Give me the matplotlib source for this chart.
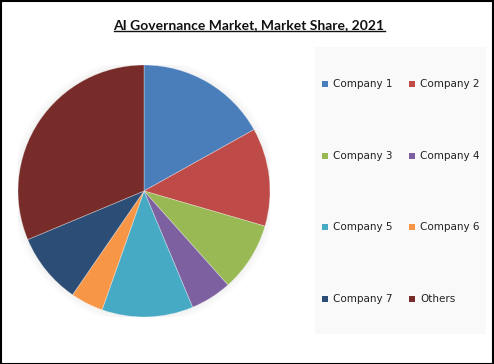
import matplotlib
matplotlib.use('Agg')
import matplotlib.pyplot as plt
from matplotlib.patches import Rectangle, Circle
from matplotlib.lines import Line2D

# data
labels = ['Company 1', 'Company 2', 'Company 3', 'Company 4',
          'Company 5', 'Company 6', 'Company 7', 'Others']
shares = [16.9, 12.6, 8.9, 5.3, 11.7, 4.2, 9.1, 31.3]
colors = ['#4a7ebb', '#be4b48', '#98b954', '#7d60a0',
          '#46aac5', '#f79646', '#2c4d75', '#772c2a']
title = 'AI Governance Market, Market Share, 2021'

W, H = 494, 364
fig = plt.figure(figsize=(W / 100, H / 100), dpi=100)
fig.patch.set_facecolor('white')

# pie axes: centre (144,191) px, radius 126 px
cx, cy, r = 144, 191, 126
ax = fig.add_axes([(cx - r) / W, (H - cy - r) / H, 2 * r / W, 2 * r / H])
ax.axis('off')

# soft shadow
for i in range(6):
    ax.add_patch(Circle((0, 0), 1.0 + 0.01 * (i + 1), color='black',
                        alpha=0.008, lw=0, zorder=0))

ax.pie(shares, colors=colors, startangle=90, counterclock=False,
       radius=1.0, wedgeprops=dict(linewidth=0.6, edgecolor=(1, 1, 1, 0.35)))
ax.set_xlim(-1.0, 1.0)
ax.set_ylim(-1.0, 1.0)
ax.set_aspect('equal')

# title with underline
t = fig.text(249 / W, 1 - 25 / H, title, ha='center', va='center',
             fontsize=10, fontweight='bold', family='Lato', color='#111111')
fig.canvas.draw()
bb = t.get_window_extent()
fig.add_artist(Line2D([bb.x0 / W, bb.x1 / W], [(bb.y0 + 0.5) / H, (bb.y0 + 0.5) / H],
                      color='#111111', lw=1.0, transform=fig.transFigure))

# legend box
fig.add_artist(Rectangle((315 / W, 1 - 334 / H), (486 - 315) / W, (334 - 47) / H,
                         transform=fig.transFigure, facecolor='#f9f9f9',
                         edgecolor='none', zorder=0))
rows_y = [84, 156, 227, 299]
cols_x = [322, 409]
for i, (lab, col) in enumerate(zip(labels, colors)):
    x = cols_x[i % 2]
    y = rows_y[i // 2]
    fig.add_artist(Rectangle((x / W, 1 - (y + 3) / H), 6 / W, 6 / H,
                             transform=fig.transFigure, facecolor=col,
                             edgecolor='none'))
    fig.text((x + 11) / W, 1 - y / H, lab, ha='left', va='center',
             fontsize=7.5, family='DejaVu Sans', color='#222222')

# outer frame
fig.add_artist(Rectangle((0.5 / W, 0.5 / H), (W - 1.5) / W, (H - 1.5) / H,
                         transform=fig.transFigure, fill=False,
                         edgecolor='black', lw=1.5))

fig.savefig('out.png', dpi=100)
